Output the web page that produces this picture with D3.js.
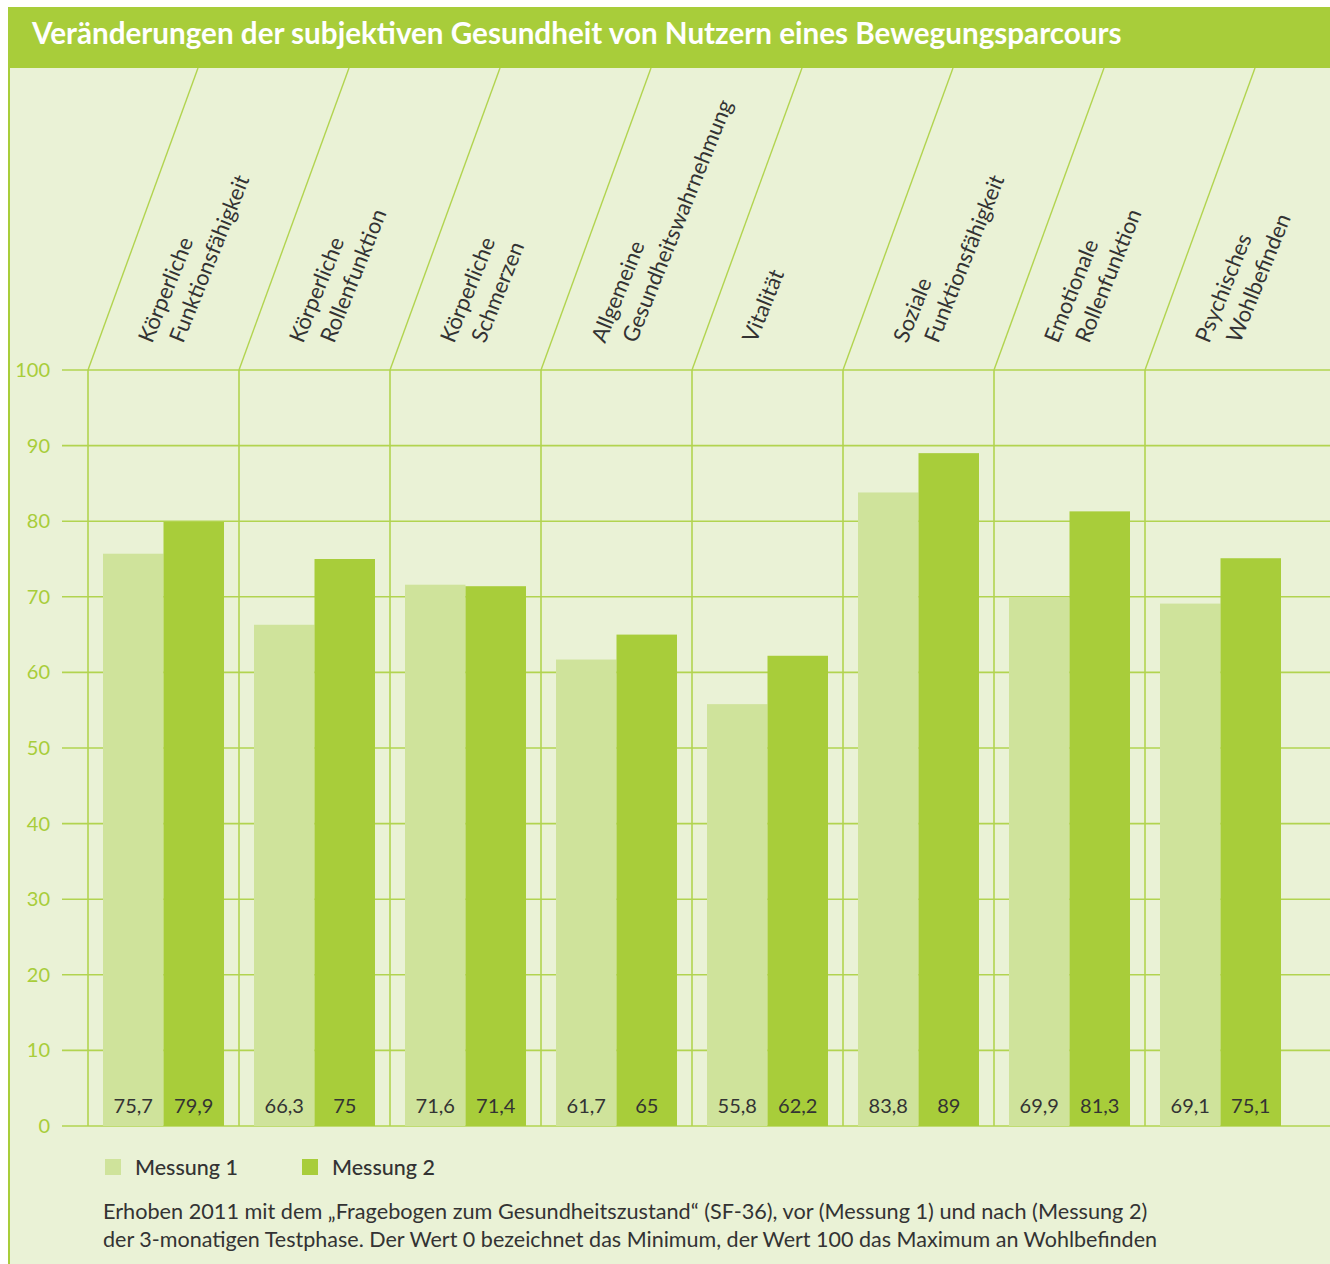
<!DOCTYPE html>
<html>
<head>
<meta charset="utf-8">
<script src="https://cdn.jsdelivr.net/npm/d3@7"></script>
<style>
  body { margin: 0; background: #fff; }
  svg { display: block; font-family: Lato, "Open Sans", sans-serif; }
</style>
</head>
<body>
<svg width="1330" height="1264"></svg>
<script>
// categories (each one is a list of label lines)
var categories = [
  ["Körperliche", "Funktionsfähigkeit"],
  ["Körperliche", "Rollenfunktion"],
  ["Körperliche", "Schmerzen"],
  ["Allgemeine", "Gesundheitswahrnehmung"],
  ["Vitalität"],
  ["Soziale", "Funktionsfähigkeit"],
  ["Emotionale", "Rollenfunktion"],
  ["Psychisches", "Wohlbefinden"]
];
var messung1 = [75.7, 66.3, 71.6, 61.7, 55.8, 83.8, 69.9, 69.1];
var messung2 = [79.9, 75, 71.4, 65, 62.2, 89, 81.3, 75.1];
var seriesNames = ["Messung 1", "Messung 2"];
var yTicks = [0, 10, 20, 30, 40, 50, 60, 70, 80, 90, 100];

var title = "Veränderungen der subjektiven Gesundheit von Nutzern eines Bewegungsparcours";
var note = [
  "Erhoben 2011 mit dem \u201EFragebogen zum Gesundheitszustand\u201C (SF-36), vor (Messung 1) und nach (Messung 2)",
  "der 3-monatigen Testphase. Der Wert 0 bezeichnet das Minimum, der Wert 100 das Maximum an Wohlbefinden"
];

var green = "#a8cd3a", light = "#cfe39b", bg = "#eaf2d6", line = "#b2d450", ink = "#333333";

var svg = d3.select("svg");

// panel and title bar
svg.append("rect").attr("x", 8).attr("y", 7).attr("width", 1322).attr("height", 1257).attr("fill", bg);
svg.append("rect").attr("x", 8).attr("y", 7).attr("width", 1322).attr("height", 61).attr("fill", green);
svg.append("line").attr("x1", 9).attr("x2", 9).attr("y1", 68).attr("y2", 1264)
  .attr("stroke", green).attr("stroke-width", 2);

//fits a text element to a given width by changing its font size
function fit(sel, width) {
  var w = sel.node().getComputedTextLength();
  var fs = parseFloat(sel.attr("font-size"));
  sel.attr("font-size", fs * width / w);
}

var t = svg.append("text").attr("x", 32).attr("y", 44).attr("fill", "#fff")
  .attr("font-size", 27).attr("font-weight", 700).text(title);
fit(t, 1090);

// scales
var idx = d3.range(categories.length);
var x = d3.scaleBand().domain(idx).range([88, 88 + 151 * categories.length]);
var xs = d3.scaleBand().domain([0, 1]).range([15, 136]);
var y = d3.scaleLinear().domain([0, 100]).range([1126, 370]);

// horizontal grid
svg.append("g").selectAll("line").data(yTicks).enter().append("line")
  .attr("x1", 62).attr("x2", 1330)
  .attr("y1", function(d) { return y(d); }).attr("y2", function(d) { return y(d); })
  .attr("stroke", line).attr("stroke-width", 1.6);

// y tick labels
svg.append("g").selectAll("text").data(yTicks).enter().append("text")
  .attr("x", 50).attr("y", function(d) { return y(d) + 7; })
  .attr("text-anchor", "end").attr("font-size", 20).attr("fill", green)
  .text(function(d) { return d; });

// vertical and slanted separators
var sep = svg.append("g");
idx.forEach(function(i) {
  var x0 = x(i);
  sep.append("line").attr("x1", x0).attr("x2", x0).attr("y1", y(100)).attr("y2", y(0))
    .attr("stroke", line).attr("stroke-width", 1.6);
  sep.append("line").attr("x1", x0).attr("x2", x0 + 110).attr("y1", y(100)).attr("y2", 68)
    .attr("stroke", line).attr("stroke-width", 1.4);
});

// bars
var groups = svg.append("g").selectAll("g").data(idx).enter().append("g")
  .attr("transform", function(i) { return "translate(" + x(i) + ",0)"; });

groups.selectAll("rect").data(function(i) { return [messung1[i], messung2[i]]; })
  .enter().append("rect")
  .attr("x", function(d, j) { return xs(j); })
  .attr("width", xs.bandwidth())
  .attr("y", function(d) { return y(d); })
  .attr("height", function(d) { return y(0) - y(d); })
  .attr("fill", function(d, j) { return j === 0 ? light : green; });

groups.selectAll("text").data(function(i) { return [messung1[i], messung2[i]]; })
  .enter().append("text")
  .attr("x", function(d, j) { return xs(j) + xs.bandwidth() / 2; })
  .attr("y", y(0) - 13)
  .attr("text-anchor", "middle").attr("font-size", 20).attr("fill", ink)
  .text(function(d) { return String(d).replace(".", ","); });

// rotated category labels
var labels = svg.append("g");
idx.forEach(function(i) {
  categories[i].forEach(function(txt, k) {
    var lx = x(i) + 64 + k * 31, ly = 344;
    labels.append("text")
      .attr("transform", "translate(" + lx + "," + ly + ") rotate(-68)")
      .attr("font-size", 22).attr("fill", ink)
      .text(txt);
  });
});

// legend
var leg = svg.append("g");
[[105, light], [302, green]].forEach(function(p, j) {
  leg.append("rect").attr("x", p[0]).attr("y", 1159).attr("width", 16).attr("height", 16).attr("fill", p[1]);
  var lt = leg.append("text").attr("x", p[0] + 30).attr("y", 1175).attr("font-size", 20)
    .attr("font-weight", 500).attr("fill", ink).text(seriesNames[j]);
  fit(lt, 103);
});

// footnote
var n1 = svg.append("text").attr("x", 103).attr("y", 1219).attr("font-size", 19).attr("fill", ink).text(note[0]);
var n2 = svg.append("text").attr("x", 103).attr("y", 1247).attr("font-size", 19).attr("fill", ink).text(note[1]);
fit(n1, 1045);
fit(n2, 1055);
</script>
</body>
</html>
